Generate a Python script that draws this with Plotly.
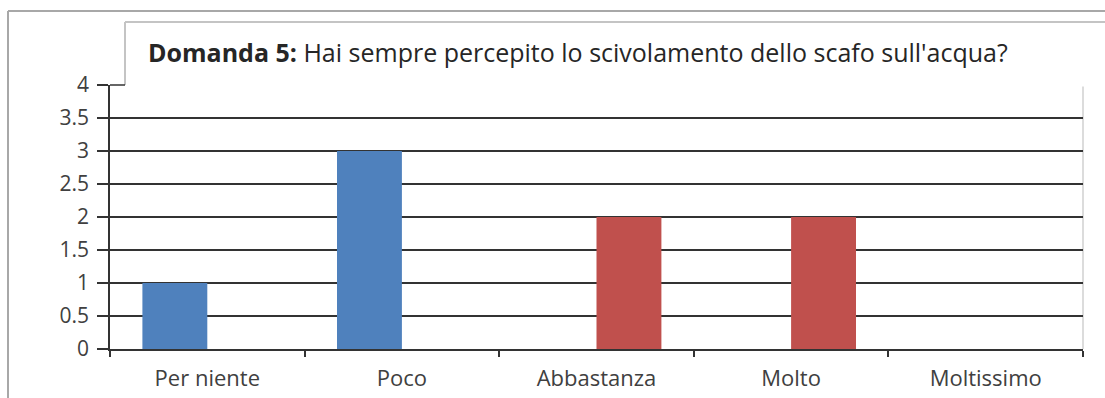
import plotly.graph_objects as go

categories = ["Per niente", "Poco", "Abbastanza", "Molto", "Moltissimo"]
serie_blu = [1, 3, 0, 0, 0]
serie_rossa = [0, 0, 2, 2, 0]
title_bold = "Domanda 5:"
title_rest = " Hai sempre percepito lo scivolamento dello scafo sull'acqua?"

W, H = 1105, 398
L, R, T, B = 110, 22, 85, 49
pw, ph = W - L - R, H - T - B


def px(x):
    return (x - L) / pw


def py(y):
    return (H - B - y) / ph


FONT = "Open Sans"
fig = go.Figure()
fig.add_trace(go.Bar(x=categories, y=serie_blu, marker=dict(color="#4F81BD", line=dict(width=0))))
fig.add_trace(go.Bar(x=categories, y=serie_rossa, marker=dict(color="#C0504D", line=dict(width=0))))

shapes = [
    # white title box covering the top of the plot
    dict(type="rect", xref="paper", yref="paper", x0=px(125), x1=px(1110), y0=py(86.5), y1=py(22),
         fillcolor="white", line=dict(width=0), layer="above"),
    dict(type="line", xref="paper", yref="paper", x0=px(125), x1=px(1110), y0=py(22), y1=py(22),
         line=dict(color="#c4c4c4", width=2), layer="above"),
    dict(type="line", xref="paper", yref="paper", x0=px(125), x1=px(125), y0=py(22), y1=py(85),
         line=dict(color="#c4c4c4", width=2), layer="above"),
    dict(type="line", xref="paper", yref="paper", x0=px(110), x1=px(125), y0=py(85), y1=py(85),
         line=dict(color="#333333", width=1.5), layer="above"),
    # outer chart border
    dict(type="line", xref="paper", yref="paper", x0=px(8), x1=px(1110), y0=py(11), y1=py(11),
         line=dict(color="#a8a8a8", width=2), layer="above"),
    dict(type="line", xref="paper", yref="paper", x0=px(8), x1=px(8), y0=py(11), y1=py(400),
         line=dict(color="#a8a8a8", width=2), layer="above"),
    # plot area right edge
    dict(type="line", xref="paper", yref="paper", x0=1, x1=1, y0=0, y1=1,
         line=dict(color="#d0d0d0", width=1.5), layer="below"),
]

fig.update_layout(
    width=W, height=H,
    margin=dict(l=L, r=R, t=T, b=B),
    paper_bgcolor="white", plot_bgcolor="white",
    barmode="group", bargap=0.333, bargroupgap=0,
    showlegend=False,
    font=dict(family=FONT, size=15, color="#404040"),
    shapes=shapes,
    annotations=[dict(xref="paper", yref="paper", x=px(146), y=py(52), xanchor="left", yanchor="middle",
                      text="<b>" + title_bold + "</b>" + title_rest, showarrow=False,
                      font=dict(family=FONT, size=25, color="#262626"))],
)
fig.update_xaxes(showline=True, linecolor="#333333", linewidth=1.5, ticks="outside", tickson="boundaries",
                 ticklen=6, tickcolor="#333333", tickwidth=1.5, showgrid=False, automargin=False,
                 tickfont=dict(family=FONT, size=22, color="#404040"), ticklabelstandoff=9)
fig.update_yaxes(range=[0, 4], dtick=0.5, showgrid=True, gridcolor="#333333", gridwidth=1.5,
                 showline=True, linecolor="#333333", linewidth=1.5, ticks="outside", ticklen=11,
                 tickcolor="#333333", tickwidth=1.5, zeroline=False, automargin=False,
                 tickfont=dict(family=FONT, size=21, color="#404040"), ticklabelstandoff=4)

fig.write_html("out.html")
